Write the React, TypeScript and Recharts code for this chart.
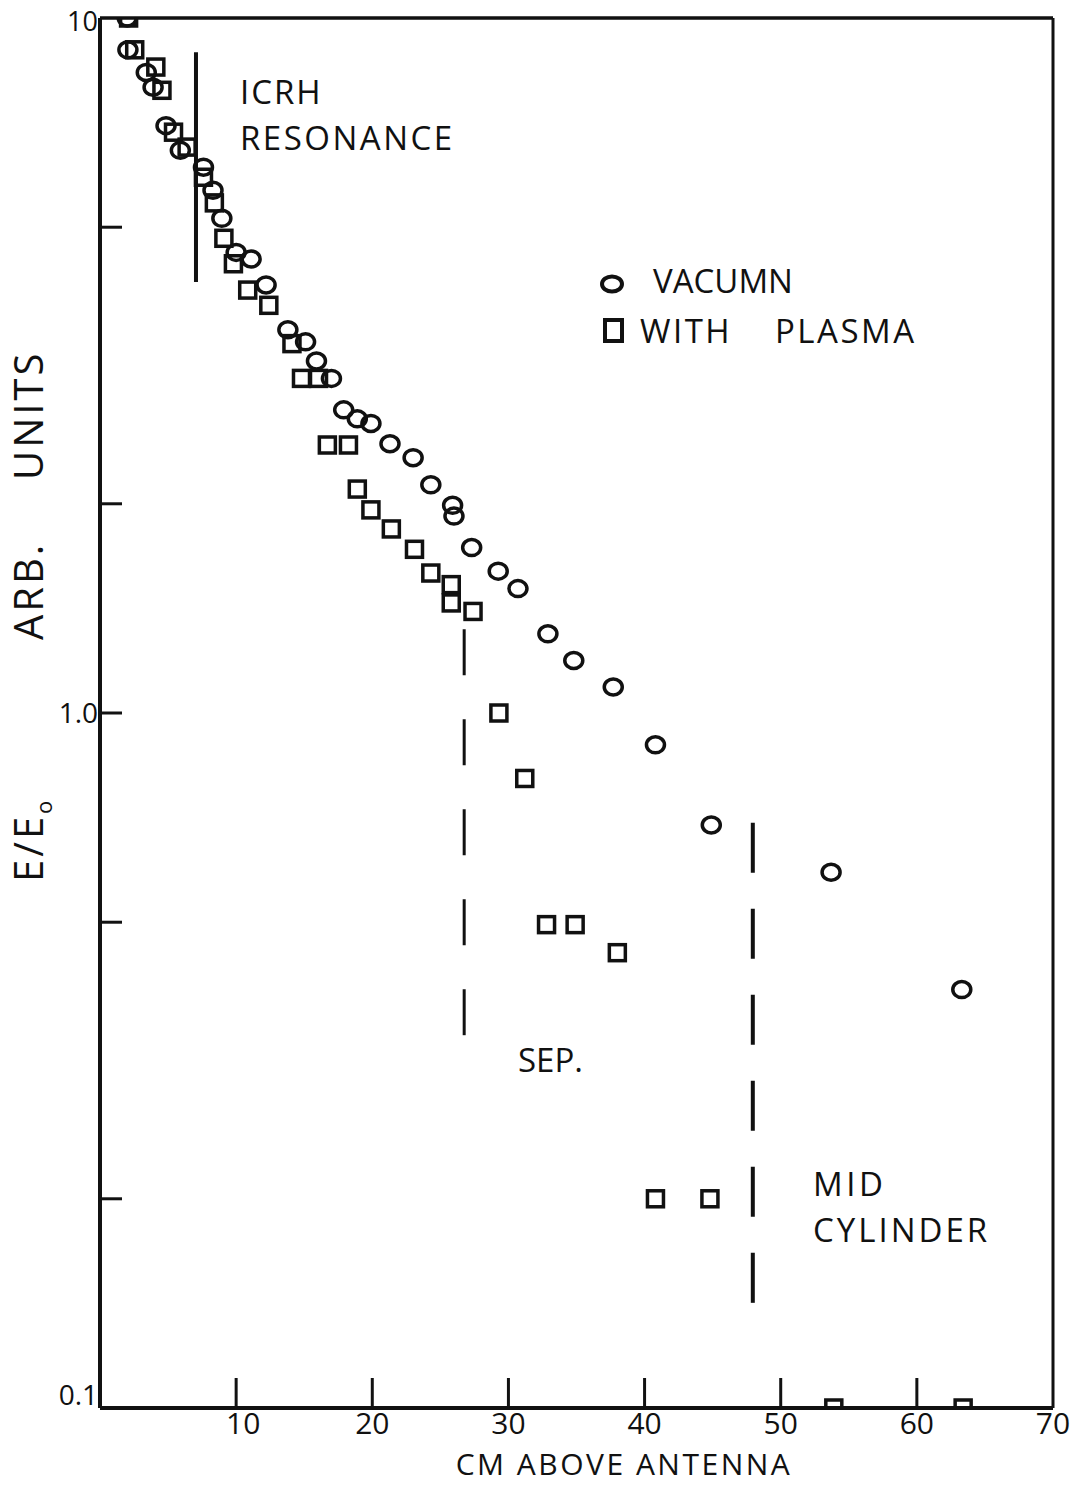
import React from 'react';
import { ScatterChart, Scatter, XAxis, YAxis, ReferenceLine } from 'recharts';

// E/E0 (arb. units) vs cm above antenna
const vacuumCm = [2.0, 2.05, 3.4, 3.9, 4.85, 5.9, 7.6, 8.3, 8.95, 10.0, 11.1, 12.2, 13.8, 15.1, 15.9, 17.0, 17.9, 18.9, 19.9, 21.3, 23.0, 24.3, 25.9, 26.0, 27.3, 29.25, 30.7, 32.9, 34.8, 37.7, 40.8, 44.9, 53.7, 63.3];
const vacuumE = [10.0, 9.0, 8.35, 7.95, 7.0, 6.45, 6.1, 5.65, 5.15, 4.6, 4.5, 4.13, 3.56, 3.42, 3.21, 3.03, 2.73, 2.65, 2.61, 2.44, 2.33, 2.13, 1.99, 1.92, 1.73, 1.6, 1.51, 1.3, 1.19, 1.09, 0.9, 0.69, 0.59, 0.4];

const plasmaCm = [2.1, 2.55, 4.1, 4.55, 5.4, 6.4, 7.6, 8.4, 9.1, 9.8, 10.85, 12.4, 14.1, 14.8, 16.05, 16.7, 18.25, 18.9, 19.9, 21.4, 23.1, 24.3, 25.8, 25.8, 27.4, 29.3, 31.2, 32.8, 34.9, 38.0, 40.8, 44.8, 53.9, 63.4];
const plasmaE = [10.0, 9.0, 8.5, 7.87, 6.85, 6.52, 5.9, 5.42, 4.82, 4.43, 4.06, 3.86, 3.4, 3.03, 3.03, 2.43, 2.43, 2.1, 1.96, 1.84, 1.72, 1.59, 1.53, 1.44, 1.4, 1.0, 0.805, 0.496, 0.496, 0.452, 0.2, 0.2, 0.1, 0.1];

const xTicks = [10, 20, 30, 40, 50, 60, 70];
const yTicks = [0.1, 0.2, 0.5, 1, 2, 5, 10];
const yTickLabels: Record<string, string> = { '10': '10', '1': '1.0', '0.1': '0.1' };

// marker positions (cm, E/E0)
const icrhCm = 7.05;
const icrhSpan = [8.93, 4.17];
const sepCm = 26.75;
const sepSpan = [1.32, 0.332];
const midCm = 47.95;
const midSpan = [0.695, 0.14];

const vacuum = vacuumCm.map((x, i) => ({ x, y: vacuumE[i] }));
const plasma = plasmaCm.map((x, i) => ({ x, y: plasmaE[i] }));

const FONT = '"Open Sans", "DejaVu Sans", sans-serif';
const INK = '#111';

const XTick = ({ x, y, payload }: any) => (
  <g>
    {payload.value < 70 && <line x1={x} y1={y} x2={x} y2={y - 30} stroke={INK} strokeWidth={3} />}
    <text x={x + (payload.value === 10 ? 7 : 0)} y={y + 26} textAnchor="middle" fontSize={30} fontFamily={FONT} fill={INK}>
      {payload.value}
    </text>
  </g>
);

const YTick = ({ x, y, payload }: any) => {
  const v = payload.value;
  const label = yTickLabels[String(v)];
  const edge = v === 10 || v === 0.1;
  return (
    <g>
      {!edge && <line x1={x} y1={y} x2={x + 22} y2={y} stroke={INK} strokeWidth={3} />}
      {label && (
        <text
          x={x - 2}
          y={v === 0.1 ? y - 3 : v === 10 ? y + 13 : y + 10}
          textAnchor="end"
          fontSize={v === 10 ? 27 : 28}
          fontFamily={FONT}
          fill={INK}
        >
          {label}
        </text>
      )}
    </g>
  );
};

const Ring = (p: any) => (
  <ellipse cx={p.cx} cy={p.cy} rx={9} ry={8} fill="none" stroke={INK} strokeWidth={3.5} />
);
const Box = (p: any) => (
  <rect x={p.cx - 8} y={p.cy - 8} width={16} height={16} fill="none" stroke={INK} strokeWidth={3.5} />
);

const txt = { fontFamily: FONT, fill: INK } as const;

export default function App() {
  return (
    <div style={{ position: 'absolute', left: 0, top: 0, background: '#fff' }}>
      <ScatterChart width={1074} height={1485} margin={{ top: 18, right: 21, bottom: 0, left: 0 }}>
        <XAxis
          type="number"
          dataKey="x"
          domain={[0, 70]}
          ticks={xTicks}
          height={77}
          tickSize={0}
          tickMargin={0}
          tickLine={false}
          tick={<XTick />}
          axisLine={{ stroke: INK, strokeWidth: 4 }}
          allowDataOverflow
        />
        <YAxis
          type="number"
          dataKey="y"
          scale="log"
          domain={[0.1, 10]}
          ticks={yTicks}
          width={100}
          tickSize={0}
          tickMargin={0}
          tickLine={false}
          tick={<YTick />}
          axisLine={{ stroke: INK, strokeWidth: 4 }}
          allowDataOverflow
        />
        <ReferenceLine y={10} stroke={INK} strokeWidth={3.5} />
        <ReferenceLine x={70} stroke={INK} strokeWidth={3} />
        <ReferenceLine
          segment={[{ x: icrhCm, y: icrhSpan[0] }, { x: icrhCm, y: icrhSpan[1] }]}
          stroke={INK}
          strokeWidth={4}
        />
        <ReferenceLine
          segment={[{ x: sepCm, y: sepSpan[0] }, { x: sepCm, y: sepSpan[1] }]}
          stroke={INK}
          strokeWidth={3}
          strokeDasharray="46 44"
        />
        <ReferenceLine
          segment={[{ x: midCm, y: midSpan[0] }, { x: midCm, y: midSpan[1] }]}
          stroke={INK}
          strokeWidth={4}
          strokeDasharray="50 36"
        />
        <Scatter name="VACUMN" data={vacuum} shape={<Ring />} isAnimationActive={false} />
        <Scatter name="WITH PLASMA" data={plasma} shape={<Box />} isAnimationActive={false} />

        {/* annotations */}
        <text x={240} y={104} fontSize={33} letterSpacing={2} {...txt}>ICRH</text>
        <text x={240} y={150} fontSize={33} letterSpacing={2.5} {...txt}>RESONANCE</text>
        <text x={518} y={1072} fontSize={33} {...txt}>SEP.</text>
        <text x={813} y={1196} fontSize={33} letterSpacing={3.5} {...txt}>MID</text>
        <text x={813} y={1242} fontSize={33} letterSpacing={3} {...txt}>CYLINDER</text>

        {/* legend */}
        <ellipse cx={612} cy={284} rx={10} ry={7.5} fill="none" stroke={INK} strokeWidth={4} />
        <text x={653} y={293} fontSize={33} {...txt}>VACUMN</text>
        <rect x={605} y={320} width={17} height={21} fill="none" stroke={INK} strokeWidth={4} />
        <text x={640} y={343} fontSize={33} letterSpacing={2.5} {...txt}>
          WITH
          <tspan x={775}>PLASMA</tspan>
        </text>

        {/* axis titles */}
        <text x={624} y={1475} fontSize={30} textAnchor="middle" letterSpacing={2.5} {...txt}>CM ABOVE ANTENNA</text>
        <text transform="translate(43,0) rotate(-90)" fontSize={40} letterSpacing={3} {...txt}>
          <tspan x={-882} y={0}>E/E</tspan>
          <tspan fontSize={22} dy={9}>o</tspan>
          <tspan x={-640} dy={-9}>ARB.</tspan>
          <tspan x={-480}>UNITS</tspan>
        </text>
      </ScatterChart>
    </div>
  );
}
